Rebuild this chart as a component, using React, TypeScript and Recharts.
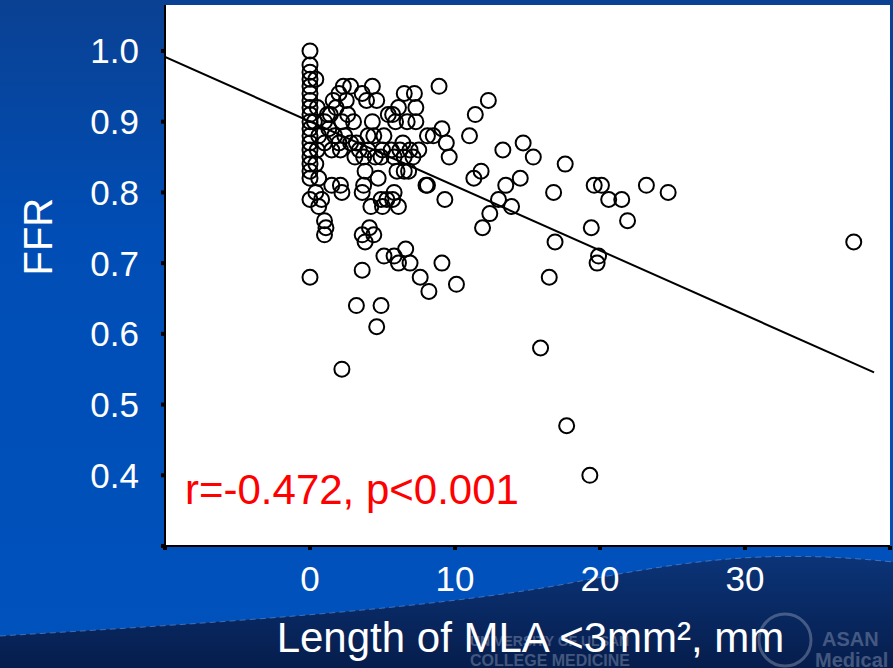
import { ScatterChart, Scatter, XAxis, YAxis, CartesianGrid } from "recharts"

// MLA length (mm) and FFR for each lesion
const lengths = [
  0, 0, 0, 0, 0, 0, 0, 0, 0, 0, 0, 0, 0, 0, 0, 0, 0, 0, 0, 0,
  0.4, 0.5, 0.3, 0.6, 0.5, 0.4, 0.6, 0.4, 0.6, 0.8, 1.0, 1.1, 1.0, 1.0, 1.2, 1.4, 1.0, 1.3,
  1.6, 1.8, 2.0, 2.3, 2.8, 2.5, 2.2, 2.6, 3.0, 1.7, 2.0, 2.4, 2.8, 1.5, 2.1, 3.2, 3.4, 3.7,
  4.0, 4.5, 3.1, 1.5, 2.1, 2.2, 3.6, 3.9, 4.3, 4.6, 3.7, 3.6, 3.8, 4.7, 4.4, 4.0, 5.0, 4.3,
  5.1, 5.4, 5.9, 5.7, 6.1, 6.5, 7.2, 7.3, 6.7, 7.3, 8.1, 8.5, 9.1, 9.4, 6.4, 5.6, 6.2, 6.9,
  7.5, 4.9, 5.8, 6.5, 7.1, 9.6, 6.0, 6.5, 6.8, 8.1, 8.0, 5.8, 5.3, 5.7, 6.1, 5.0, 4.2, 4.9,
  4.1, 3.6, 4.4, 3.8, 6.6, 5.1, 5.8, 6.1, 6.9, 9.1, 7.6, 8.2, 10.1, 3.6, 3.2, 4.9, 4.6, 2.2,
  9.3, 8.9,
  12.3, 11.4, 11.0, 13.3, 14.7, 15.4, 17.6, 11.8, 11.3, 14.5, 13.5, 13.0, 13.9, 12.4, 11.9,
  16.8, 19.6, 20.1, 20.6, 21.5, 23.2, 24.7, 21.9, 19.4, 16.9, 19.9, 19.8, 16.5, 15.9, 17.7,
  19.3, 37.5,
]

const ffrValues = [
  1.0, 0.98, 0.97, 0.96, 0.95, 0.94, 0.93, 0.92, 0.91, 0.9, 0.89, 0.88, 0.87, 0.86, 0.85, 0.84, 0.83, 0.82, 0.79, 0.68,
  0.96, 0.92, 0.9, 0.88, 0.86, 0.84, 0.82, 0.8, 0.78, 0.79, 0.76, 0.75, 0.74, 0.9, 0.91, 0.91, 0.87, 0.89,
  0.93, 0.92, 0.94, 0.95, 0.95, 0.93, 0.9, 0.91, 0.9, 0.88, 0.87, 0.88, 0.87, 0.86, 0.86, 0.87, 0.86, 0.85,
  0.86, 0.85, 0.85, 0.81, 0.81, 0.8, 0.94, 0.93, 0.95, 0.93, 0.81, 0.8, 0.83, 0.82, 0.88, 0.88, 0.86, 0.9,
  0.88, 0.91, 0.9, 0.91, 0.92, 0.94, 0.94, 0.92, 0.9, 0.9, 0.88, 0.88, 0.89, 0.87, 0.87, 0.86, 0.86, 0.86,
  0.86, 0.85, 0.85, 0.85, 0.85, 0.85, 0.83, 0.83, 0.83, 0.81, 0.81, 0.8, 0.79, 0.79, 0.78, 0.78, 0.78, 0.79,
  0.75, 0.74, 0.74, 0.73, 0.72, 0.71, 0.71, 0.7, 0.7, 0.7, 0.68, 0.66, 0.67, 0.69, 0.64, 0.64, 0.61, 0.55,
  0.79, 0.95,
  0.93, 0.91, 0.88, 0.86, 0.87, 0.85, 0.84, 0.83, 0.82, 0.82, 0.81, 0.79, 0.78, 0.77, 0.75,
  0.8, 0.81, 0.81, 0.79, 0.79, 0.81, 0.8, 0.76, 0.75, 0.73, 0.71, 0.7, 0.68, 0.58, 0.47,
  0.4, 0.73,
]

// regression line end points
const fitLengths = [-10, 38.9]
const fitFFR = [0.9915, 0.5455]

const xTicks = [-10, 0, 10, 20, 30, 40]
const yTicks = [0.3, 0.4, 0.5, 0.6, 0.7, 0.8, 0.9, 1.0]

const points = lengths.map((x, i) => ({ x, y: ffrValues[i] }))
const fitLine = fitLengths.map((x, i) => ({ x, y: fitFFR[i] }))

const font = "'Liberation Sans', Arial, sans-serif"
const tickStyle = { fill: "#fff", fontSize: 35, fontFamily: font }

const Ring = (props: any) => {
  if (props.cx == null || props.cy == null) return <g />
  return <circle cx={props.cx} cy={props.cy} r={7.5} fill="none" stroke="#000" strokeWidth={2} />
}

export default function App() {
  return (
    <div
      style={{
        position: "absolute",
        left: 0,
        top: 0,
        width: 893,
        height: 668,
        overflow: "hidden",
        background: "linear-gradient(180deg, #0a4193 0%, #004db5 35%, #0052bd 100%)",
      }}
    >
      {/* dark wave at the bottom of the slide, with the faint logo */}
      <svg width={893} height={668} style={{ position: "absolute", left: 0, top: 0 }}>
        <defs>
          <linearGradient id="wave" x1="0" y1="0" x2="0" y2="1">
            <stop offset="0%" stopColor="#0b3478" />
            <stop offset="100%" stopColor="#061d4c" />
          </linearGradient>
        </defs>
        <path
          d="M0 636 C 200 624, 420 610, 560 585 C 680 562, 760 548, 893 562 L 893 668 L 0 668 Z"
          fill="url(#wave)"
        />
        <path
          d="M0 636 C 200 624, 420 610, 560 585 C 680 562, 760 548, 893 562"
          fill="none"
          stroke="#6f8fc4"
          strokeWidth={1}
          strokeDasharray="6 4"
          opacity={0.6}
        />
        <g fill="#8e9bb5" opacity={0.45} fontFamily={font} fontWeight="bold">
          <text x={470} y={646} fontSize={14}>UNIVERSITY OF ULSAN</text>
          <text x={470} y={666} fontSize={16}>COLLEGE MEDICINE</text>
          <circle cx={785} cy={640} r={26} fill="none" stroke="#8e9bb5" strokeWidth={3} />
          <text x={822} y={646} fontSize={20}>ASAN</text>
          <text x={815} y={667} fontSize={20}>Medical</text>
        </g>
      </svg>

      <ScatterChart
        width={893}
        height={668}
        margin={{ top: 5, right: 3, bottom: 82, left: 105 }}
        style={{ position: "absolute", left: 0, top: 0 }}
      >
        <CartesianGrid horizontal={false} vertical={false} fill="#fff" />
        <XAxis
          type="number"
          dataKey="x"
          domain={[-10, 40]}
          ticks={xTicks}
          allowDataOverflow
          height={40}
          axisLine={{ stroke: "#000", strokeWidth: 2 }}
          tickLine={{ stroke: "#000", strokeWidth: 4 }}
          tickSize={4}
          tickMargin={16}
          tick={tickStyle}
          tickFormatter={(v: number) => (v === -10 || v === 40 ? "" : String(v))}
          label={{
            value: "Length of MLA <3mm², mm",
            position: "insideBottom",
            offset: -66,
            fill: "#fff",
            fontSize: 42,
            fontFamily: font,
            dx: 3,
          }}
        />
        <YAxis
          type="number"
          dataKey="y"
          domain={[0.3, 1.065]}
          ticks={yTicks}
          allowDataOverflow
          width={60}
          axisLine={{ stroke: "#000", strokeWidth: 2 }}
          tickLine={{ stroke: "#000", strokeWidth: 4 }}
          tickSize={4}
          tickMargin={22}
          tick={tickStyle}
          tickFormatter={(v: number) => (v < 0.35 ? "" : v.toFixed(1))}
          label={{
            value: "FFR",
            angle: -90,
            position: "insideLeft",
            offset: -67,
            fill: "#fff",
            fontSize: 40,
            fontFamily: font,
          }}
        />
        <XAxis
          xAxisId="top"
          orientation="top"
          type="number"
          domain={[0, 1]}
          height={0}
          tick={false}
          tickLine={false}
          axisLine={{ stroke: "#000", strokeWidth: 2 }}
        />
        <YAxis
          yAxisId="right"
          orientation="right"
          type="number"
          domain={[0, 1]}
          width={0}
          tick={false}
          tickLine={false}
          axisLine={{ stroke: "#000", strokeWidth: 2 }}
        />
        <Scatter data={points} shape={Ring} isAnimationActive={false} />
        <Scatter
          data={fitLine}
          line={{ stroke: "#000", strokeWidth: 2 }}
          shape={() => <g />}
          isAnimationActive={false}
        />
      </ScatterChart>

      <svg width={893} height={668} style={{ position: "absolute", left: 0, top: 0, pointerEvents: "none" }}>
        <text x={185} y={504} fill="#ff0000" fontSize={42} fontFamily={font}>
          r=-0.472, p&lt;0.001
        </text>
      </svg>
    </div>
  )
}
